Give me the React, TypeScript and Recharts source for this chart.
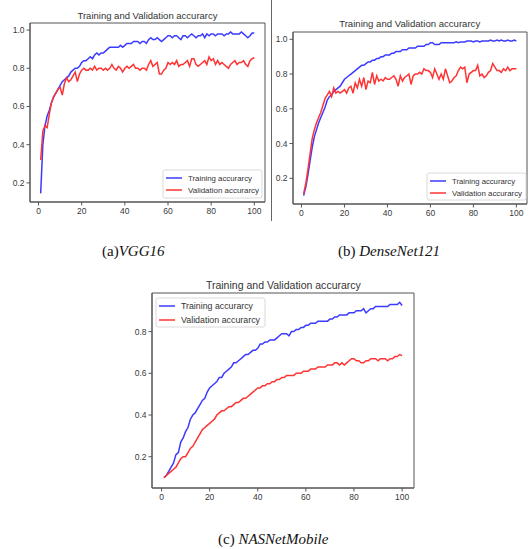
import { LineChart, Line, XAxis, YAxis, ReferenceArea } from "recharts";

const epochs = Array.from({ length: 100 }, (_, i) => i + 1);
const xTicks = [0, 20, 40, 60, 80, 100];
const X_DOMAIN: [number, number] = [-3.95, 104.95];

// (a) VGG16
const vggTrain = [
  0.145, 0.4, 0.5, 0.55, 0.58, 0.62, 0.65, 0.67, 0.69, 0.71,
  0.73, 0.74, 0.75, 0.76, 0.78, 0.79, 0.8, 0.8, 0.81, 0.83,
  0.84, 0.84, 0.85, 0.86, 0.85, 0.87, 0.88, 0.87, 0.88, 0.88,
  0.89, 0.9, 0.91, 0.91, 0.91, 0.91, 0.91, 0.92, 0.91, 0.92,
  0.93, 0.93, 0.93, 0.94, 0.94, 0.94, 0.93, 0.94, 0.94, 0.93,
  0.95, 0.96, 0.95, 0.95, 0.96, 0.95, 0.94, 0.95, 0.96, 0.97,
  0.97, 0.96, 0.97, 0.97, 0.96, 0.95, 0.97, 0.97, 0.96, 0.97,
  0.98, 0.97, 0.96, 0.97, 0.97, 0.98, 0.96, 0.98, 0.97, 0.98,
  0.98, 0.97, 0.98, 0.98, 0.98, 0.97, 0.98, 0.98, 0.99, 0.98,
  0.98, 0.98, 0.98, 0.99, 0.98, 0.97, 0.96, 0.97, 0.985, 0.985,
];
const vggVal = [
  0.32, 0.47, 0.5, 0.49, 0.56, 0.62, 0.65, 0.67, 0.69, 0.7,
  0.66, 0.72, 0.75, 0.73, 0.74, 0.76, 0.78, 0.73, 0.77, 0.79,
  0.8, 0.79, 0.79, 0.8, 0.79, 0.81, 0.79, 0.8, 0.8, 0.79,
  0.8, 0.79, 0.8, 0.82, 0.8, 0.79, 0.81, 0.8, 0.78, 0.8,
  0.81, 0.8, 0.81, 0.82, 0.8, 0.8, 0.79, 0.8, 0.8, 0.79,
  0.82, 0.84, 0.81, 0.82, 0.83, 0.77, 0.77, 0.79, 0.8, 0.83,
  0.82, 0.83, 0.82, 0.84, 0.81, 0.82, 0.82, 0.83, 0.84, 0.81,
  0.85, 0.85, 0.82, 0.81, 0.82, 0.83, 0.84, 0.82, 0.86, 0.84,
  0.85, 0.82, 0.84, 0.82, 0.83, 0.82, 0.81, 0.8, 0.82, 0.83,
  0.84, 0.82, 0.83, 0.83, 0.84, 0.82, 0.81, 0.84, 0.85, 0.855,
];

// (b) DenseNet121
const denseTrain = [
  0.1, 0.15, 0.22, 0.3, 0.38, 0.44, 0.48, 0.52, 0.55, 0.58,
  0.61, 0.65, 0.67, 0.68, 0.7, 0.71, 0.72, 0.73, 0.75, 0.77,
  0.78, 0.79, 0.8, 0.81, 0.82, 0.83, 0.84, 0.85, 0.85, 0.86,
  0.87, 0.87, 0.88, 0.88, 0.89, 0.89, 0.9, 0.9, 0.91, 0.91,
  0.91, 0.92, 0.92, 0.93, 0.93, 0.93, 0.94, 0.94, 0.94, 0.95,
  0.95, 0.95, 0.95, 0.96, 0.96, 0.96, 0.96, 0.97, 0.97, 0.98,
  0.98, 0.97, 0.97, 0.97, 0.98, 0.98, 0.98, 0.98, 0.98, 0.98,
  0.98, 0.985, 0.98, 0.985, 0.985, 0.985, 0.99, 0.99, 0.99, 0.985,
  0.99, 0.99, 0.985, 0.99, 0.99, 0.99, 0.99, 0.995, 0.99, 0.99,
  0.995, 0.99, 0.995, 0.99, 0.99, 0.995, 0.99, 0.99, 0.995, 0.99,
];
const denseVal = [
  0.11, 0.17, 0.25, 0.34, 0.43, 0.48, 0.52, 0.55, 0.58, 0.62,
  0.66, 0.68, 0.7, 0.67, 0.72, 0.69, 0.7, 0.69, 0.7, 0.71,
  0.69, 0.72, 0.73, 0.69, 0.75, 0.72, 0.77, 0.73, 0.78, 0.71,
  0.76, 0.75, 0.81, 0.74, 0.79, 0.76, 0.77, 0.76, 0.78, 0.77,
  0.77, 0.78, 0.79, 0.77, 0.73, 0.79, 0.76, 0.78, 0.79, 0.8,
  0.74, 0.79, 0.8, 0.8, 0.81, 0.8, 0.83, 0.82, 0.82, 0.81,
  0.78, 0.83, 0.8, 0.77, 0.8, 0.77, 0.83, 0.79, 0.75, 0.76,
  0.78, 0.79, 0.82, 0.84, 0.83, 0.84, 0.75, 0.8, 0.81, 0.82,
  0.82, 0.85, 0.79, 0.8, 0.78, 0.79, 0.81, 0.82, 0.86, 0.84,
  0.82, 0.82, 0.81, 0.83, 0.82, 0.84, 0.82, 0.83, 0.83, 0.83,
];

// (c) NASNetMobile
const nasTrain = [
  0.1, 0.11, 0.13, 0.15, 0.17, 0.21, 0.22, 0.27, 0.29, 0.32,
  0.34, 0.38, 0.4, 0.41, 0.43, 0.45, 0.47, 0.48, 0.51, 0.53,
  0.54, 0.55, 0.56, 0.58, 0.58, 0.6, 0.61, 0.62, 0.63, 0.65,
  0.65, 0.66, 0.67, 0.68, 0.69, 0.69, 0.7, 0.71, 0.71, 0.72,
  0.74, 0.74, 0.75, 0.75, 0.76, 0.76, 0.76, 0.77, 0.78, 0.79,
  0.79, 0.79, 0.78, 0.8, 0.8, 0.81, 0.81, 0.82, 0.82, 0.83,
  0.83, 0.84, 0.84, 0.84, 0.85, 0.85, 0.85, 0.85, 0.85, 0.86,
  0.86, 0.87, 0.87, 0.88, 0.88, 0.88, 0.88, 0.89, 0.89, 0.89,
  0.9, 0.9, 0.9, 0.91, 0.89, 0.9, 0.91, 0.91, 0.92, 0.92,
  0.92, 0.92, 0.92, 0.92, 0.93, 0.93, 0.93, 0.93, 0.94, 0.925,
];
const nasVal = [
  0.1, 0.11, 0.12, 0.13, 0.14, 0.15, 0.17, 0.19, 0.2, 0.2,
  0.22, 0.24, 0.25, 0.27, 0.29, 0.31, 0.33, 0.34, 0.35, 0.36,
  0.37, 0.38, 0.4, 0.41, 0.42, 0.42, 0.43, 0.44, 0.44, 0.45,
  0.46, 0.46, 0.47, 0.48, 0.48, 0.49, 0.5, 0.51, 0.52, 0.53,
  0.53, 0.54, 0.54, 0.55, 0.55, 0.56, 0.56, 0.57, 0.57, 0.58,
  0.58, 0.59, 0.59, 0.59, 0.59, 0.6, 0.6, 0.6, 0.61, 0.61,
  0.61, 0.62, 0.62, 0.62, 0.63, 0.63, 0.63, 0.63, 0.64, 0.64,
  0.64, 0.65, 0.65, 0.64, 0.65, 0.64, 0.65, 0.66, 0.67, 0.67,
  0.66, 0.66, 0.65, 0.65, 0.66, 0.66, 0.67, 0.67, 0.67, 0.66,
  0.67, 0.67, 0.67, 0.66, 0.67, 0.67, 0.68, 0.68, 0.69, 0.685,
];

const BLUE = "#3b3bff";
const RED = "#ff3333";
const FRAME = "#555";
const TICK_TEXT = "#3a3a3a";
const FONT = "'Liberation Sans', Arial, sans-serif";

interface PanelProps {
  train: number[];
  val: number[];
  left: number;
  top: number;
  width: number;
  height: number;
  marginTop: number;
  marginRight: number;
  yDomain: [number, number];
  yTicks: number[];
}

const Panel = ({ train, val, left, top, width, height, marginTop, marginRight, yDomain, yTicks }: PanelProps) => {
  const data = epochs.map((e, i) => ({ epoch: e, train: train[i], val: val[i] }));
  const tick = { fontSize: 8.5, fill: TICK_TEXT, fontFamily: FONT };
  return (
    <div style={{ position: "absolute", left, top }}>
      <LineChart width={width} height={height} data={data} margin={{ top: marginTop, right: marginRight, bottom: 0, left: 0 }}>
        <XAxis
          dataKey="epoch"
          type="number"
          domain={X_DOMAIN}
          ticks={xTicks}
          height={23}
          tick={tick}
          tickSize={3.5}
          tickLine={{ stroke: FRAME }}
          axisLine={{ stroke: FRAME }}
        />
        <YAxis
          type="number"
          domain={yDomain}
          ticks={yTicks}
          width={30}
          tick={tick}
          tickSize={3.5}
          tickLine={{ stroke: FRAME }}
          axisLine={{ stroke: FRAME }}
          tickFormatter={(v: number) => v.toFixed(1)}
        />
        {/* full box frame like matplotlib spines */}
        <ReferenceArea x1={X_DOMAIN[0]} x2={X_DOMAIN[1]} y1={yDomain[0]} y2={yDomain[1]} fill="none" stroke={FRAME} strokeWidth={1} ifOverflow="visible" />
        <Line type="linear" dataKey="train" stroke={BLUE} strokeWidth={1.5} dot={false} isAnimationActive={false} />
        <Line type="linear" dataKey="val" stroke={RED} strokeWidth={1.5} dot={false} isAnimationActive={false} />
      </LineChart>
    </div>
  );
};

const LegendBox = ({ x, y, w, h, size, gap, tw, vw }: { x: number; y: number; w: number; h: number; size: number; gap: number; tw: number; vw: number }) => (
  <g>
    <rect x={x} y={y} width={w} height={h} rx={2} fill="#fff" fillOpacity={0.85} stroke="#d0d0d0" strokeWidth={0.8} />
    <line x1={x + 3} x2={x + 19} y1={y + 8} y2={y + 8} stroke={BLUE} strokeWidth={1.5} />
    <line x1={x + 3} x2={x + 19} y1={y + 8 + gap} y2={y + 8 + gap} stroke={RED} strokeWidth={1.5} />
    <text x={x + 25} y={y + 11} fontSize={size} fill="#333" textLength={tw} lengthAdjust="spacingAndGlyphs">Training accurarcy</text>
    <text x={x + 25} y={y + 11 + gap} fontSize={size} fill="#333" textLength={vw} lengthAdjust="spacingAndGlyphs">Validation accurarcy</text>
  </g>
);

export default function App() {
  return (
    <div style={{ position: "absolute", left: 0, top: 0, width: 529, height: 549, background: "#fff", overflow: "hidden" }}>
      <Panel train={vggTrain} val={vggVal} left={0} top={0} width={270} height={225} marginTop={23} marginRight={5} yDomain={[0.1, 1.037]} yTicks={[0.2, 0.4, 0.6, 0.8, 1.0]} />
      <Panel train={denseTrain} val={denseVal} left={263} top={0} width={266} height={227} marginTop={32} marginRight={2} yDomain={[0.052, 1.042]} yTicks={[0.2, 0.4, 0.6, 0.8, 1.0]} />
      <Panel train={nasTrain} val={nasVal} left={122} top={270} width={297} height={241} marginTop={23} marginRight={5} yDomain={[0.05, 0.985]} yTicks={[0.2, 0.4, 0.6, 0.8]} />
      <svg width={529} height={549} style={{ position: "absolute", left: 0, top: 0, pointerEvents: "none", fontFamily: FONT }}>
        <line x1={271.5} x2={271.5} y1={0} y2={221} stroke="#666" strokeWidth={1} />
        <text x={147.5} y={19} fontSize={9.5} fill="#333" textAnchor="middle" textLength={140} lengthAdjust="spacingAndGlyphs">Training and Validation accurarcy</text>
        <text x={409.7} y={27} fontSize={9.5} fill="#333" textAnchor="middle" textLength={141} lengthAdjust="spacingAndGlyphs">Training and Validation accurarcy</text>
        <text x={283.4} y={289} fontSize={10} fill="#333" textAnchor="middle" textLength={155} lengthAdjust="spacingAndGlyphs">Training and Validation accurarcy</text>
        <LegendBox x={163} y={170} w={99} h={28} size={8} gap={12} tw={64} vw={71} />
        <LegendBox x={427} y={173} w={99} h={27} size={8} gap={12} tw={63} vw={70} />
        <LegendBox x={156} y={298} w={109} h={29} size={9} gap={14} tw={72} vw={79} />
        <g fontFamily="'Liberation Serif', 'Times New Roman', serif" fontSize={15} fill="#111">
          <text x={102} y={256}>(a)<tspan fontStyle="italic">VGG16</tspan></text>
          <text x={338} y={256}>(b) <tspan fontStyle="italic">DenseNet121</tspan></text>
          <text x={218} y={544}>(c) <tspan fontStyle="italic">NASNetMobile</tspan></text>
        </g>
      </svg>
    </div>
  );
}
